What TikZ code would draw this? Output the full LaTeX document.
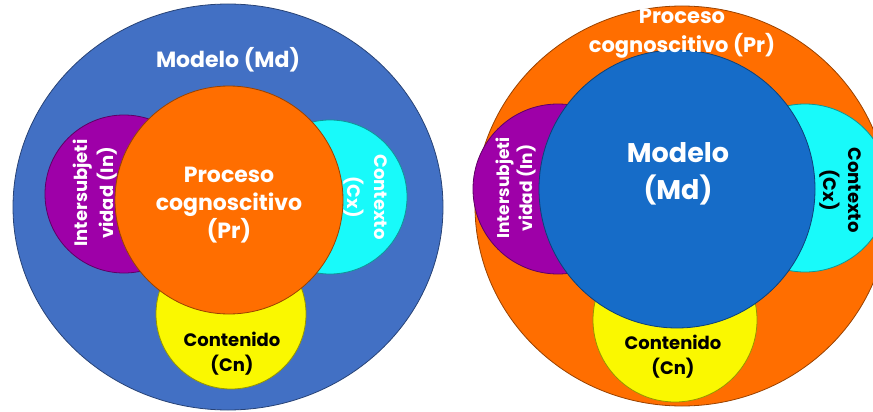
\documentclass[tikz,border=0pt]{standalone}
\usepackage{fontspec}
\setmainfont{Poppins}
\usetikzlibrary{shapes.geometric}
\definecolor{mdblue}{RGB}{66,112,196}
\definecolor{mddeep}{RGB}{22,108,200}
\definecolor{prorange}{RGB}{255,110,0}
\definecolor{inpurple}{RGB}{158,0,168}
\definecolor{cxcyan}{RGB}{24,250,250}
\definecolor{cnyellow}{RGB}{250,248,0}
\begin{document}
\begin{tikzpicture}[x=1pt,y=-1pt,disc/.style={ellipse,fill=#1,draw=#1!60!black,line width=0.8pt,inner sep=0pt},light/.style={align=center,text=white,font=\bfseries},dark/.style={align=center,text=black,font=\bfseries}]
\useasboundingbox (0,0) rectangle (873,412);
\clip (0,0) rectangle (873,412);
\node[disc=mdblue,minimum width=430pt,minimum height=406pt] (modeloA) at (228,207) {};
\node[disc=inpurple,minimum width=158pt,minimum height=158pt] (interA) at (124,194) {};
\node[disc=cxcyan,minimum width=154pt,minimum height=154pt] (contextoA) at (330,197) {};
\node[disc=cnyellow,minimum width=150pt,minimum height=150pt] (contenidoA) at (231,314) {};
\node[disc=prorange,minimum width=228pt,minimum height=228pt] (procesoA) at (229,200) {};
\node[light,font=\bfseries\fontsize{22}{26}\selectfont] (modeloAtxt) at (228,60) {Modelo (Md)};
\node[light,font=\bfseries\fontsize{22}{28}\selectfont] (procesoAtxt) at (229,205) {Proceso\\cognoscitivo\\(Pr)};
\node[light,rotate=90,font=\bfseries\fontsize{18}{26}\selectfont] (interAtxt) at (95,193) {Intersubjeti\\vidad (In)};
\node[light,rotate=-90,font=\bfseries\fontsize{18}{27}\selectfont] (contextoAtxt) at (366,197) {Contexto\\(Cx)};
\node[dark,font=\bfseries\fontsize{18}{25}\selectfont] (contenidoAtxt) at (232,354) {Contenido\\(Cn)};
\node[disc=prorange,minimum width=414pt,minimum height=400pt] (procesoB) at (682,206) {};
\node[disc=inpurple,minimum width=170pt,minimum height=170pt] (interB) at (558,189) {};
\node[disc=cxcyan,minimum width=168pt,minimum height=168pt] (contextoB) at (805,188) {};
\node[disc=cnyellow,minimum width=164pt,minimum height=164pt] (contenidoB) at (675,320) {};
\node[disc=mddeep,minimum width=276pt,minimum height=278pt] (modeloB) at (677,189) {};
\node[light,font=\bfseries\fontsize{21}{29}\selectfont] (procesoBtxt) at (682,34) {Proceso\\cognoscitivo (Pr)};
\node[light,font=\bfseries\fontsize{27}{37}\selectfont] (modeloBtxt) at (678,174) {Modelo\\(Md)};
\node[light,rotate=90,font=\bfseries\fontsize{17}{23}\selectfont] (interBtxt) at (516,188) {Intersubjeti\\vidad (In)};
\node[dark,rotate=-90,font=\bfseries\fontsize{18}{25}\selectfont] (contextoBtxt) at (840,190) {Contexto\\(Cx)};
\node[dark,font=\bfseries\fontsize{18}{25}\selectfont] (contenidoBtxt) at (673,357) {Contenido\\(Cn)};
\end{tikzpicture}
\end{document}
